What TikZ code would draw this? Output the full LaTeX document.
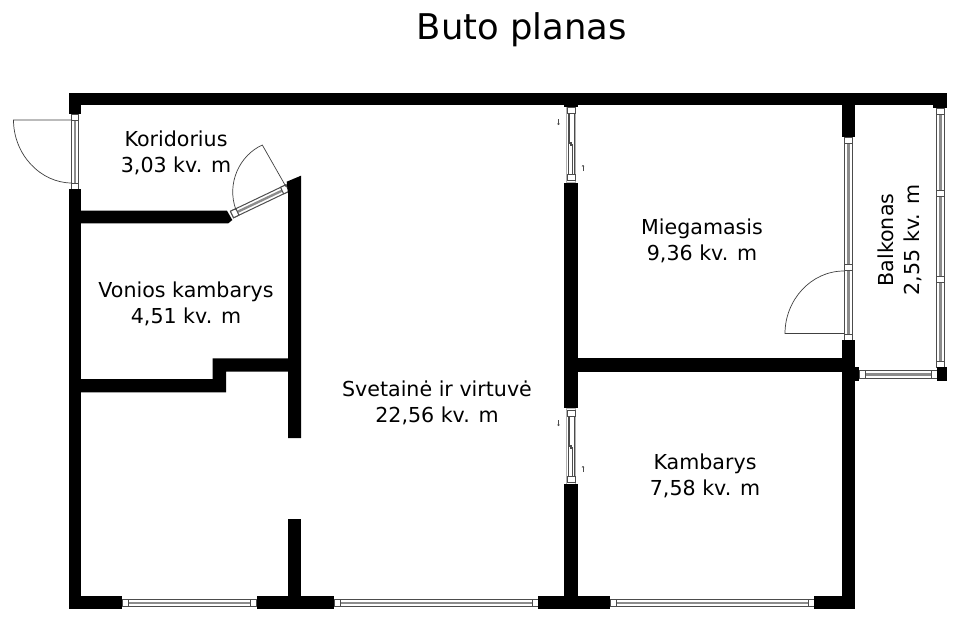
\documentclass[tikz,border=0pt]{standalone}
\usepackage{fontspec}
\usetikzlibrary{arrows.meta}
\setmainfont{DejaVu Sans}
\definecolor{winedge}{gray}{0.3}
\definecolor{winband}{gray}{0.55}
\tikzset{
  wall/.style={fill=black,draw=none},
  frame/.style={draw=winedge,line width=1pt,fill=white},
  band/.style={draw=winband,line width=2.4pt},
  slat/.style={draw=winedge,line width=0.6pt},
  leaf/.style={draw=black!75,line width=0.7pt},
  room/.style={font=\fontsize{20.6}{26}\selectfont,align=center,text=black},
  tick/.style={draw=black!70,line width=0.6pt,-{To[length=1.6pt,width=2.4pt]}}
}
% horizontal window: x1 x2 yc halfheight
\newcommand\hwin[4]{%
  \path[frame] (#1,#3-#4) rectangle (#2,#3+#4);
  \path[band] (#1+6,#3) -- (#2-6,#3);
  \path[frame] (#1,#3-#4) rectangle (#1+6,#3+#4);
  \path[frame] (#2-6,#3-#4) rectangle (#2,#3+#4);
}
% vertical window: y1 y2 xc halfwidth
\newcommand\vwin[4]{%
  \path[frame] (#3-#4,#1) rectangle (#3+#4,#2);
  \path[band] (#3,#1+6) -- (#3,#2-6);
  \path[frame] (#3-#4,#1) rectangle (#3+#4,#1+6);
  \path[frame] (#3-#4,#2-6) rectangle (#3+#4,#2);
}
% sliding door: y1 y2
\newcommand\slide[2]{%
  \path[draw=gray!60,line width=0.8pt,fill=white] (566.7,#1) rectangle (575.7,#2);
  \path[frame,line width=0.5pt] (567.5,#1+2) rectangle (574.9,#1+8);
  \path[frame,line width=0.5pt] (567.5,#2-8) rectangle (574.9,#2-2);
  \path[slat,line width=0.9pt] (569.6,#1+8) -- (569.6,#1+39);
  \path[slat,line width=0.9pt] (572.4,#1+39) -- (572.4,#2-8);
  \path[slat] (568,#1+8) -- (568,#2-8);
  \path[slat] (574.4,#1+8) -- (574.4,#2-8);
  \path[fill=black!70] (569.6,#1+37) rectangle (572.4,#1+41);
}
\begin{document}
\begin{tikzpicture}[x=1pt,y=-1pt]
\useasboundingbox[fill=white] (0,0) rectangle (960,621);
% windows and doors
\vwin{114}{189}{75}{3.2}
\vwin{137}{340}{848.3}{4.2}
\path[frame] (844.1,264.5) rectangle (852.5,270.5);
\vwin{108}{367.3}{940.4}{3.6}
\path[frame] (936.8,190.7) rectangle (944,196.7);
\path[frame] (936.8,276.5) rectangle (944,282.5);
\hwin{859.3}{937.3}{374.5}{3.8}
\hwin{122.3}{256.7}{602.9}{3.6}
\hwin{334.3}{538.3}{602.9}{3.6}
\hwin{610.3}{814.3}{602.9}{3.6}
\slide{105}{182.7}
\slide{408.3}{484}
\begin{scope}[shift={(232,214.5)},rotate=25.5]
  \hwin{0}{61.5}{0}{3.6}
\end{scope}
% door leaves
\coordinate (d1h) at (72,120); \coordinate (d1o) at (13.5,120); \coordinate (d1e) at (72,183);
\draw[leaf] (d1h) -- (d1o) .. controls (13.5,154) and (40,183) .. (d1e);
\coordinate (d2h) at (286,186.7); \coordinate (d2o) at (262.3,145); \coordinate (d2e) at (236,210);
\draw[leaf] (d2h) -- (d2o) .. controls (240,155) and (226,183) .. (d2e);
\coordinate (d3h) at (844,333.5); \coordinate (d3o) at (785,333.5); \coordinate (d3e) at (844,271);
\draw[leaf] (d3h) -- (d3o) .. controls (785,300) and (811,271) .. (d3e);
% small arrows of the sliding doors
\draw[tick] (558.5,119) -- (558.5,125);
\draw[tick] (583,171) -- (583,165);
\draw[tick] (558.5,420) -- (558.5,426);
\draw[tick] (583,472) -- (583,466);
% walls
\fill[wall] (68.5,92.5) rectangle (946.7,105);
\fill[wall] (68.5,105) rectangle (81,114);
\fill[wall] (933,105) rectangle (946.7,107.5);
\fill[wall] (564.3,105) rectangle (578.3,106.5);
\fill[wall] (841.7,105) rectangle (855,137.3);
\fill[wall] (68.5,189) rectangle (81,609.3);
\fill[wall] (81,210.7) -- (227,210.7) -- (232.3,220) -- (228.3,223.3) -- (81,223.3) -- cycle;
\fill[wall] (286.7,181.7) -- (301,175.7) -- (301,438) -- (288,438) -- (288,193.5) -- cycle;
\fill[wall] (81,379) -- (212.7,379) -- (212.7,358.3) -- (288,358.3) -- (288,371.5) -- (226,371.5) -- (226,392.3) -- (81,392.3) -- cycle;
\fill[wall] (288,519.3) rectangle (301,596);
\fill[wall] (81,596) rectangle (122.3,609.3);
\fill[wall] (256.7,596) rectangle (334.3,609.3);
\fill[wall] (538.3,596) rectangle (610.3,609.3);
\fill[wall] (814.3,596) rectangle (855,609.3);
\fill[wall] (564.3,182.7) rectangle (578.3,408.3);
\fill[wall] (564.3,484) rectangle (578.3,596);
\fill[wall] (578.3,358.3) rectangle (841.7,371.7);
\fill[wall] (841.7,340) rectangle (855,596);
\fill[wall] (855,367.3) rectangle (859.3,381);
\fill[wall] (937.3,367.3) rectangle (946.7,381);
% labels
\node[font=\fontsize{35.4}{40}\selectfont] (title) at (522,30) {Buto planas};
\node[room] (koridorius) at (176,153) {Koridorius\\3,03 kv. m};
\node[room] (vonia) at (186,304) {Vonios kambarys\\4,51 kv. m};
\node[room] (svetaine) at (437,403) {Svetainė ir virtuvė\\22,56 kv. m};
\node[room] (miegamasis) at (702,241) {Miegamasis\\9,36 kv. m};
\node[room] (kambarys) at (705,476) {Kambarys\\7,58 kv. m};
\node[room,rotate=90] (balkonas) at (900,240) {Balkonas\\2,55 kv. m};
\end{tikzpicture}
\end{document}
